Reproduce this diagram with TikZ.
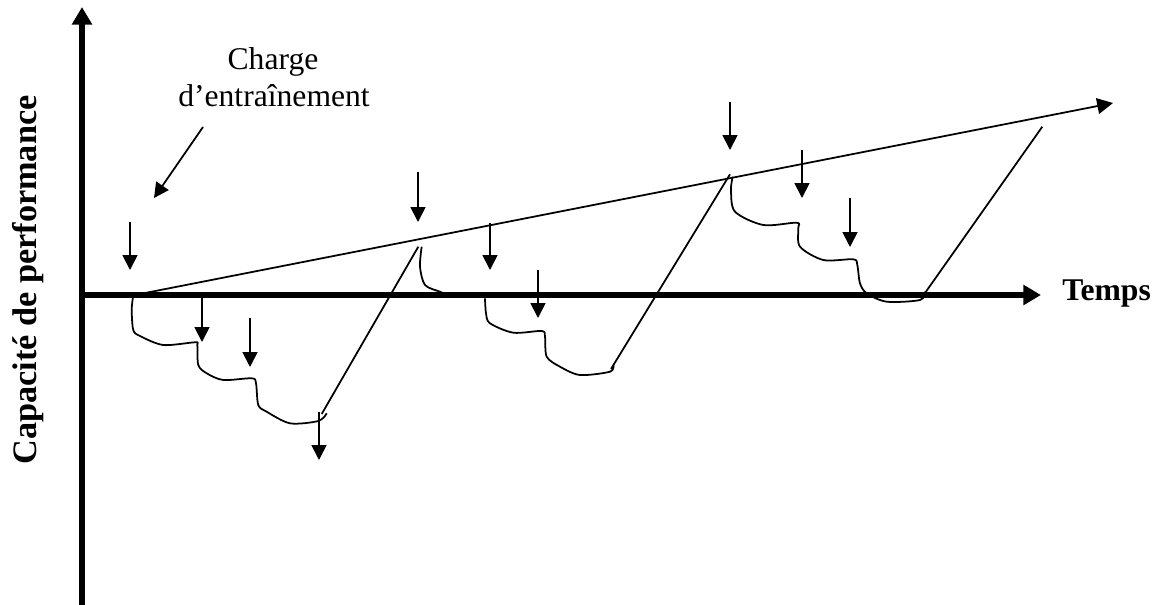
\documentclass[tikz,border=0pt]{standalone}
\usepackage{fontspec}
\setmainfont{Liberation Serif}
\usetikzlibrary{arrows.meta}

\begin{document}
\begin{tikzpicture}[x=0.02cm, y=-0.02cm,
    axis/.style={line width=3.1pt, -{Triangle[length=10pt,width=11pt]}},
    drop/.style={line width=1pt, -{Triangle[length=8.5pt,width=8.5pt]}},
    wave/.style={line width=1pt, line join=round},
    lbl/.style={font=\fontsize{18}{20}\selectfont}]
      \tikzstyle{every node}+=[inner sep=0pt]
      \useasboundingbox (0,0) rectangle (1160,605);
      % axes
      \coordinate (O) at (82,295);
      \coordinate (ytop) at (82,7);
      \coordinate (ybot) at (82,605);
      \coordinate (xend) at (1041,295);
      \draw [axis] (ybot) -- (ytop);
      \draw [axis] (O) -- (xend);
      \node (temps) [lbl, anchor=base west, font=\bfseries\fontsize{18}{20}\selectfont] at (1062,300) {Temps};
      \node (capacite) [anchor=base, rotate=90, font=\bfseries\fontsize{19.5}{22}\selectfont] at (36,280) {Capacité de performance};
      % trend
      \coordinate (t0) at (140,294);
      \coordinate (t1) at (1113,103);
      \draw [line width=1pt, -{Triangle[length=9pt,width=9pt]}] (t0) -- (t1);
      \node (charge) [lbl, anchor=base] at (273,70) {Charge};
      \node (entrainement) [lbl, anchor=base] at (274,106) {d’entraînement};
      \coordinate (cs) at (203,127);
      \coordinate (ce) at (154,198);
      \draw [drop] (cs) -- (ce);
      % loads
      \draw [drop] (130,222) -- (130,270);
      \draw [drop] (202,297) -- (202,342);
      \draw [drop] (250,318) -- (250,367);
      \draw [drop] (319,412) -- (319,460);
      \draw [drop] (418,172) -- (418,222);
      \draw [drop] (490,223) -- (490,270);
      \draw [drop] (538,270) -- (538,318);
      \draw [drop] (730,102) -- (730,150);
      \draw [drop] (802,150) -- (802,198);
      \draw [drop] (850,198) -- (850,247);
      % fatigue and recovery
      \draw [wave] plot [smooth, tension=0.5] coordinates {(133,297) (131.7,310) (133.3,330) (140,336) (163.3,345) (195,342.3) (197.3,345) (198.3,365) (206.7,373.3) (223.3,380) (251.7,378.3) (256,383.3) (258.3,405) (266.7,411.7) (290,423.3) (318.3,421) (326.7,413.3)};
      \coordinate (lowA) at (321.7,414);
      \coordinate (peakA) at (418.3,246.7);
      \draw [wave] (lowA) -- (peakA);
      \draw [wave] plot [smooth, tension=0.5] coordinates {(421.7,246.7) (420,266.7) (425,285) (440,291.7) (445,294)};
      \draw [wave] plot [smooth, tension=0.5] coordinates {(485,298.3) (486,313.3) (490,323.3) (513.3,332.7) (541.7,331) (545,336.7) (546.7,356.7) (560,366.7) (580,375) (610,371.7) (613.3,365)};
      \coordinate (lowC) at (611,369);
      \coordinate (peakC) at (730,174.3);
      \draw [wave] (lowC) -- (peakC);
      \draw [wave] plot [smooth, tension=0.5] coordinates {(732.7,176.7) (731,190) (735,211.7) (763.3,225) (796.7,222.7) (798.3,228.3) (800,246.7) (823.3,260) (853.3,259.3) (857.3,265) (860,283.3) (866.7,293.3) (886.7,301.7) (920,300) (925,291.7)};
      \coordinate (lowD) at (925,293);
      \coordinate (peakD) at (1042.3,126.7);
      \draw [wave] (lowD) -- (peakD);
    \end{tikzpicture}
\end{document}
